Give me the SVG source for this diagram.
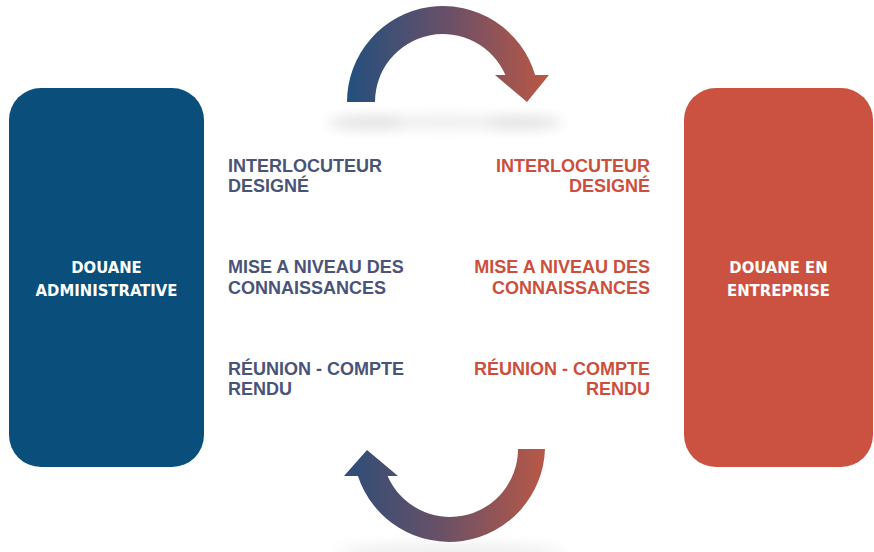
<svg xmlns="http://www.w3.org/2000/svg" width="874" height="552" viewBox="0 0 874 552">
<defs>
<linearGradient id="gTop" x1="347" y1="0" x2="549" y2="0" gradientUnits="userSpaceOnUse">
<stop offset="0" stop-color="#234f7d"/><stop offset="0.5" stop-color="#6a5068"/><stop offset="1" stop-color="#bb5744"/>
</linearGradient>
<linearGradient id="gBot" x1="344" y1="0" x2="545" y2="0" gradientUnits="userSpaceOnUse">
<stop offset="0" stop-color="#2c4d78"/><stop offset="0.5" stop-color="#6c5166"/><stop offset="1" stop-color="#b85847"/>
</linearGradient>
<filter id="blur" x="-50%" y="-300%" width="200%" height="700%"><feGaussianBlur stdDeviation="7"/></filter>
</defs>
<style>
.box-l{fill:#0a4f7b}
.box-r{fill:#cb5240}
.boxtxt{font-family:"DejaVu Sans Condensed","DejaVu Sans",sans-serif;font-weight:bold;font-size:16.5px;fill:#ffffff;text-anchor:middle}
.mid{font-family:"Liberation Sans",Arial,sans-serif;font-weight:bold;font-size:18px}
.ml{fill:#4a5378}
.mr{fill:#cc4f3d;text-anchor:end}
.shadow{fill:#000;opacity:0.07;filter:url(#blur)}
</style>
<g id="shadows">
<ellipse class="shadow" cx="445" cy="122" rx="120" ry="7"/>
<ellipse class="shadow" cx="365" cy="123" rx="38" ry="6"/>
<ellipse class="shadow" cx="525" cy="123" rx="38" ry="6"/>
<ellipse class="shadow" cx="450" cy="552" rx="115" ry="8"/>
</g>
<g id="node-admin">
<rect class="box-l" x="9" y="88" width="195" height="379" rx="32"/>
<text class="boxtxt" x="106.5" y="273">DOUANE</text>
<text class="boxtxt" x="106.5" y="296">ADMINISTRATIVE</text>
</g>
<g id="node-entreprise">
<rect class="box-r" x="684" y="88" width="189" height="379" rx="32"/>
<text class="boxtxt" x="778.5" y="273">DOUANE EN</text>
<text class="boxtxt" x="778.5" y="296">ENTREPRISE</text>
</g>
<g id="labels-left">
<text class="mid ml" x="228" y="172">INTERLOCUTEUR</text>
<text class="mid ml" x="228" y="192">DESIGNÉ</text>
<text class="mid ml" x="228" y="273">MISE A NIVEAU DES</text>
<text class="mid ml" x="228" y="294">CONNAISSANCES</text>
<text class="mid ml" x="228" y="375">RÉUNION - COMPTE</text>
<text class="mid ml" x="228" y="395">RENDU</text>
</g>
<g id="labels-right">
<text class="mid mr" x="650" y="172">INTERLOCUTEUR</text>
<text class="mid mr" x="650" y="192">DESIGNÉ</text>
<text class="mid mr" x="650" y="273">MISE A NIVEAU DES</text>
<text class="mid mr" x="650" y="294">CONNAISSANCES</text>
<text class="mid mr" x="650" y="375">RÉUNION - COMPTE</text>
<text class="mid mr" x="650" y="395">RENDU</text>
</g>
<g id="connectors">
<path fill="url(#gTop)" d="M347 102 A96 96 0 0 1 535.1 75 L549 75 L527 102 L495 75 L505.4 75 A68 68 0 0 0 375 102 Z"/>
<path fill="url(#gBot)" d="M545 449 A96 96 0 0 1 357.9 476 L344 476 L367 450 L398 476 L387.6 476 A68 68 0 0 0 518 449 Z"/>
</g>
</svg>
